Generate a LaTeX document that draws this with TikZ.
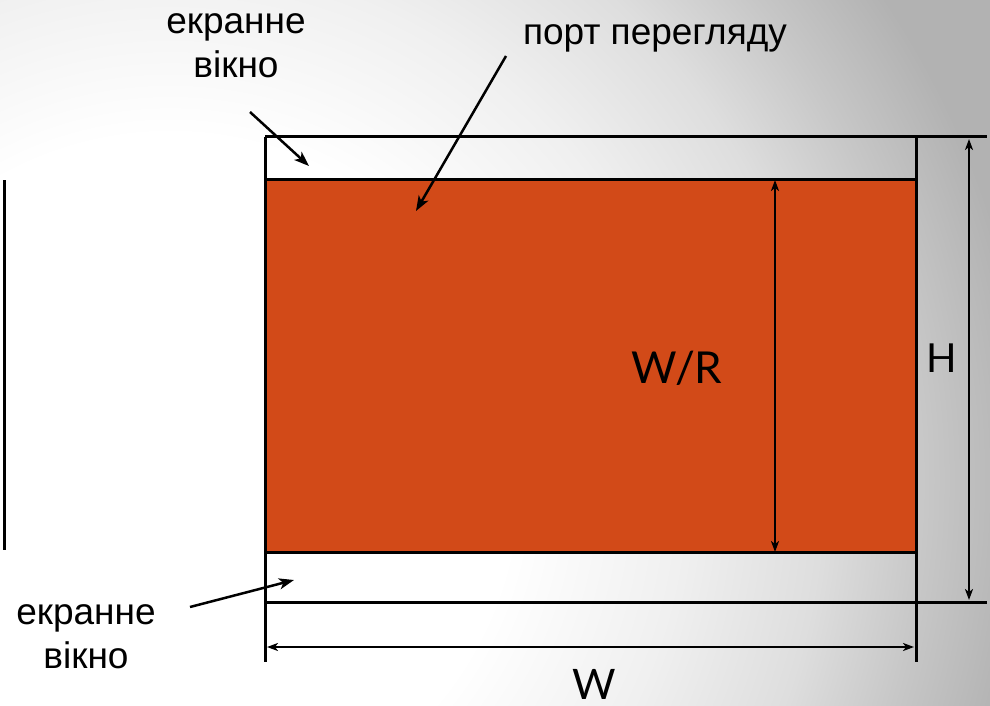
\documentclass[tikz,border=0pt]{standalone}
\usepackage{fontspec}
\setmainfont{Liberation Sans}
\newfontfamily\dimfont{Lato}
\usetikzlibrary{arrows.meta}
\definecolor{portfill}{RGB}{210,74,24}
\definecolor{bgA}{gray}{0.94}
\definecolor{bgB}{gray}{0.87}
\definecolor{bgC}{gray}{0.78}
\definecolor{bgedge}{gray}{0.70}
\pgfdeclareradialshading{bgglow}{\pgfpoint{0bp}{0bp}}{color(0bp)=(white); color(10bp)=(white); color(15bp)=(bgA); color(19bp)=(bgB); color(22bp)=(bgC); color(25bp)=(bgedge); color(50bp)=(bgedge)}
\tikzset{
  frame/.style={line width=3pt, black},
  pointer/.style={line width=2.5pt, -{Stealth[length=15pt,width=11pt,inset=4pt]}},
  dimline/.style={line width=2pt, {Stealth[length=11pt,width=8pt,inset=3pt]}-{Stealth[length=11pt,width=8pt,inset=3pt]}},
  caption/.style={font=\fontsize{37}{44}\selectfont, align=center, inner sep=0pt},
  dimlabel/.style={font=\dimfont\fontsize{44}{50}\selectfont, inner sep=0pt, anchor=base}
}
\begin{document}
\begin{tikzpicture}[x=1pt,y=-1pt]
  % background with a soft light glow on the lower left
  \useasboundingbox (0,0) rectangle (990,706);
  \fill[bgedge] (0,0) rectangle (990,706);
  \begin{scope}
    \clip (0,0) rectangle (990,706);
    \shade[shading=bgglow] (170,480) circle (860);
  \end{scope}

  % left edge line
  \draw[line width=3pt] (4,180) -- (4,550);

  % viewport (filled) and screen window frame
  \fill[portfill] (265,179) rectangle (916,552);
  \draw[frame] (265,179) -- (916,179);
  \draw[frame] (265,552) -- (916,552);
  \draw[frame] (265,137) -- (987,137);
  \draw[frame] (265,602) -- (987,602);
  \draw[frame] (265,137) -- (265,662);
  \draw[frame] (916,137) -- (916,662);

  % dimension lines
  \coordinate (wrTop) at (775,180);
  \coordinate (wrBot) at (775,552);
  \draw[dimline] (wrTop) -- (wrBot);
  \coordinate (hTop) at (969,139);
  \coordinate (hBot) at (969,600);
  \draw[dimline] (hTop) -- (hBot);
  \coordinate (wLeft) at (267,647);
  \coordinate (wRight) at (914,647);
  \draw[dimline] (wLeft) -- (wRight);

  % dimension labels
  \node[dimlabel] (wr) at (677,383) {W/R};
  \node[dimlabel, font=\dimfont\fontsize{40}{46}\selectfont] (h) at (942,372) {H};
  \node[dimlabel, font=\dimfont\fontsize{42}{46}\selectfont] (w) at (594,699) {W};

  % captions
  \node[caption] (topwin) at (236,46) {екранне\\вікно};
  \node[caption, anchor=base] (port) at (655,45) {порт перегляду};
  \node[caption] (botwin) at (86,637) {екранне\\вікно};

  % pointers
  \coordinate (topwinA) at (250,112);
  \coordinate (topwinB) at (309,166);
  \draw[pointer] (topwinA) -- (topwinB);
  \coordinate (portA) at (506,56);
  \coordinate (portB) at (416,211);
  \draw[pointer] (portA) -- (portB);
  \coordinate (botwinA) at (190,607);
  \coordinate (botwinB) at (294,580);
  \draw[pointer] (botwinA) -- (botwinB);
\end{tikzpicture}
\end{document}
